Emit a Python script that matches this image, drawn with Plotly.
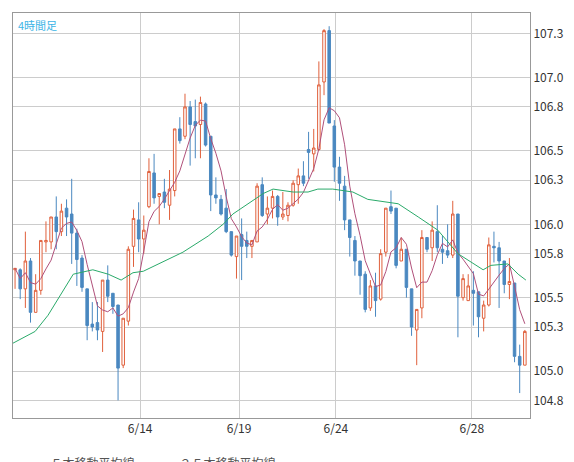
import plotly.graph_objects as go
import pandas as pd

opens = [105.69,105.69,105.56,105.75,105.40,105.55,105.88,105.88,106.05,105.95,
         106.11,106.07,105.94,105.77,105.56,105.32,105.33,105.27,105.62,105.53,
         105.45,105.04,105.34,105.85,106.03,105.90,106.12,106.35,106.19,106.22,
         106.13,106.23,106.65,106.60,106.80,106.70,106.68,106.82,106.60,106.20,
         106.17,106.11,105.95,105.78,105.93,105.89,105.85,105.88,106.27,106.07,
         106.11,106.19,106.05,106.06,106.13,106.27,106.33,106.51,106.48,106.51,
         106.97,107.32,106.67,106.39,106.26,106.03,105.89,105.75,105.66,105.43,
         105.58,105.49,105.81,106.12,106.11,105.75,105.83,105.56,105.28,105.43,
         105.91,105.84,105.95,105.83,105.82,105.79,106.07,105.50,105.48,105.55,
         105.54,105.36,105.45,105.85,105.84,105.75,105.59,105.60,105.10,105.04]
highs = [105.70,105.70,105.95,105.77,105.66,105.89,106.02,106.05,106.19,106.14,
         106.17,106.31,105.97,105.79,105.56,105.47,105.47,105.62,105.72,105.53,
         105.45,105.36,105.85,106.10,106.15,106.06,106.45,106.48,106.21,106.31,
         106.37,106.65,106.73,106.89,106.84,106.85,106.87,106.83,106.60,106.32,
         106.20,106.24,105.95,105.92,106.04,105.95,105.89,106.28,106.32,106.19,
         106.23,106.20,106.22,106.15,106.30,106.38,106.43,106.63,106.65,107.11,
         107.33,107.35,106.71,106.46,106.33,106.03,105.92,105.75,105.68,105.62,
         105.67,105.83,106.11,106.23,106.11,105.91,105.83,105.56,105.42,105.96,
         105.91,106.02,106.13,105.92,106.00,106.16,106.07,105.66,105.66,105.68,
         105.54,105.48,105.91,105.95,105.88,105.75,105.77,105.60,105.18,105.28]
lows = [105.56,105.49,105.43,105.33,105.40,105.52,105.81,105.83,105.83,105.92,
        105.92,105.73,105.58,105.54,105.21,105.27,105.21,105.13,105.47,105.39,
        104.80,105.02,105.31,105.71,105.81,105.80,106.11,106.14,106.00,106.11,
        106.03,106.19,106.55,106.58,106.40,106.45,106.45,106.53,106.09,106.14,
        106.06,105.94,105.78,105.63,105.62,105.77,105.77,105.88,106.05,106.00,
        106.04,105.99,106.03,106.02,106.12,106.14,106.26,106.31,106.36,106.50,
        106.88,106.69,106.29,106.16,105.96,105.78,105.65,105.52,105.40,105.41,
        105.37,105.48,105.78,106.07,105.70,105.75,105.50,105.24,105.04,105.36,
        105.81,105.75,105.81,105.73,105.77,105.77,105.23,105.48,105.48,105.31,
        105.23,105.27,105.44,105.74,105.43,105.53,105.49,105.06,104.85,105.04]
closes = [105.70,105.56,105.75,105.40,105.55,105.89,105.89,106.05,105.95,106.09,
          106.05,105.94,105.76,105.57,105.31,105.30,105.28,105.62,105.51,105.44,
          105.02,105.36,105.83,106.04,105.90,105.96,106.36,106.18,106.21,106.15,
          106.24,106.65,106.57,106.80,106.68,106.67,106.83,106.54,106.20,106.18,
          106.07,105.95,105.79,105.92,105.85,105.85,105.89,106.26,106.06,106.11,
          106.19,106.05,106.07,106.13,106.28,106.33,106.28,106.49,106.52,106.95,
          107.32,106.69,106.39,106.28,106.03,105.91,105.75,105.65,105.42,105.58,
          105.48,105.80,106.11,106.09,105.72,105.83,105.57,105.30,105.42,105.91,
          105.83,105.96,105.84,105.81,105.79,106.07,105.51,105.63,105.58,105.53,
          105.37,105.45,105.86,105.84,105.75,105.59,105.61,105.10,105.04,105.27]

# 25-bar average at a few bar positions
ma25_pos = [-0.4,3.9,6.4,9.3,11.3,15.1,18.1,20.6,22.9,24.9,27.8,32.6,37.5,40.4,42.3,
            45.2,48.2,50.1,54.0,56.9,58.8,61.7,65.6,68.5,72.4,74.4,78.3,82.1,86.0,
            90.9,92.4,95.7,97.7,99.2]
ma25_val = [105.19,105.27,105.38,105.55,105.66,105.69,105.66,105.62,105.67,105.68,
            105.73,105.81,105.92,106.00,106.07,106.14,106.21,106.24,106.22,106.22,
            106.24,106.24,106.22,106.17,106.15,106.14,106.05,105.96,105.80,105.69,
            105.72,105.73,105.66,105.62]

tick_pos = [24.3, 43.5, 62.3, 88.7]
tick_text = ["6/14", "6/19", "6/24", "6/28"]
price_ticks = [104.8, 105.0, 105.3, 105.5, 105.8, 106.0, 106.3, 106.5, 106.8, 107.0, 107.3]

x = list(range(len(closes)))
ma5 = pd.Series(closes).rolling(5, min_periods=1).mean()

fig = go.Figure()
fig.add_trace(go.Candlestick(
    x=x, open=opens, high=highs, low=lows, close=closes,
    increasing=dict(line=dict(color="#e0603c", width=1), fillcolor="white"),
    decreasing=dict(line=dict(color="#4a88c0", width=1), fillcolor="#4a88c0"),
    whiskerwidth=0, showlegend=False, hoverinfo="skip"))
fig.add_trace(go.Scatter(x=x, y=ma5, mode="lines", name="５本移動平均線",
                         line=dict(color="#b0507a", width=1)))
fig.add_trace(go.Scatter(x=ma25_pos, y=ma25_val, mode="lines", name="２５本移動平均線",
                         line=dict(color="#2aaa6a", width=1)))

fig.update_layout(
    width=574, height=462, paper_bgcolor="white", plot_bgcolor="white",
    margin=dict(l=5, r=52, t=5, b=52, autoexpand=False),
    font=dict(family="Noto Sans CJK JP", size=12, color="#333"),
    legend=dict(orientation="h", x=-0.005, y=-0.075, yanchor="top",
                font=dict(size=12, color="#555")),
    annotations=[dict(text="4時間足", x=0.005, y=0.995, xref="paper", yref="paper",
                      xanchor="left", yanchor="top", showarrow=False,
                      font=dict(color="#3cb4e6", size=11))],
)
fig.update_xaxes(range=[-0.4, 100.0], tickvals=tick_pos, ticktext=tick_text,
                 showgrid=True, gridcolor="#cccccc", rangeslider_visible=False,
                 showline=True, linecolor="#999", mirror=True, ticks="", zeroline=False,
                 automargin=False)
fig.update_yaxes(range=[104.68, 107.44], side="right", tickvals=price_ticks,
                 ticktext=[f"{v:.1f}" for v in price_ticks],
                 showgrid=True, gridcolor="#cccccc", showline=True, linecolor="#999",
                 mirror=True, ticks="", zeroline=False, automargin=False)

fig.write_html("out.html")
